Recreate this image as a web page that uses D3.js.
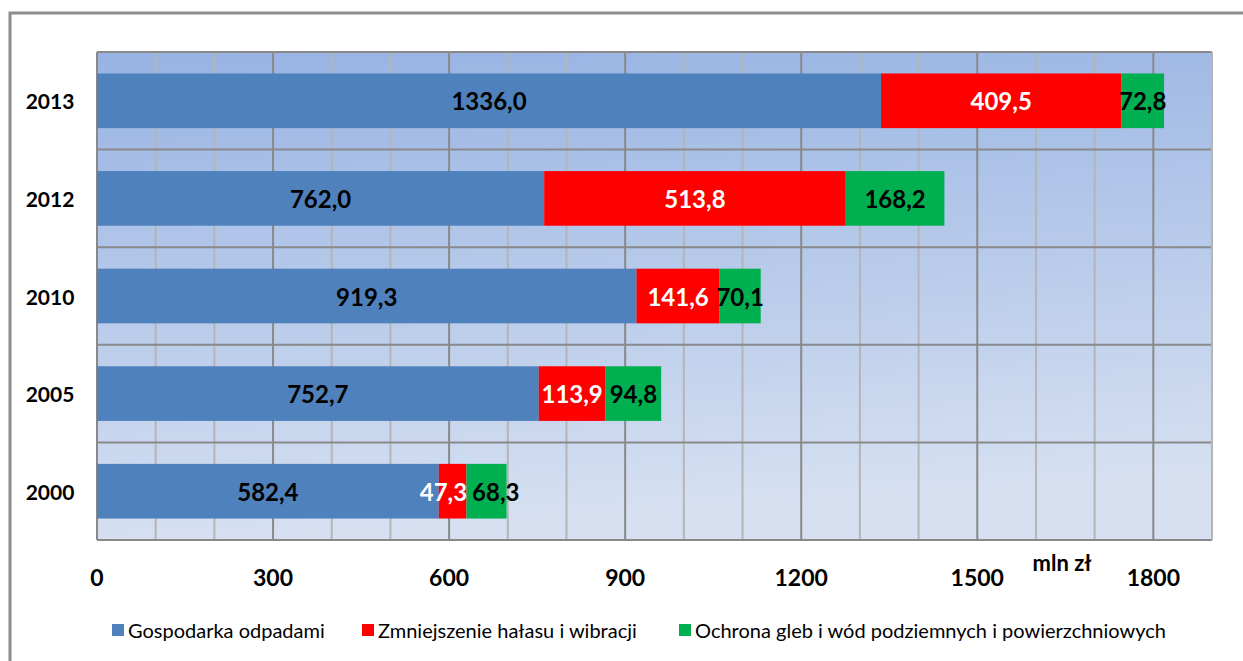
<html>
<head>
  <meta charset="utf-8">
  <script src="https://d3js.org/d3.v7.min.js"></script>
  <style>
    body { margin: 0; background: #fff; }
    text { font-family: Lato, "Open Sans", sans-serif; }
  </style>
</head>
<body>
  <svg id="chart" width="1243" height="661"></svg>
  <script>
    const years = ['2013', '2012', '2010', '2005', '2000'];
    const seriesNames = ['Gospodarka odpadami', 'Zmniejszenie hałasu i wibracji', 'Ochrona gleb i wód podziemnych i powierzchniowych'];
    const gospodarka = [1336.0, 762.0, 919.3, 752.7, 582.4];
    const halas = [409.5, 513.8, 141.6, 113.9, 47.3];
    const gleby = [72.8, 168.2, 70.1, 94.8, 68.3];
    const xTicks = [0, 300, 600, 900, 1200, 1500, 1800];
    const colors = ['#4f81bd', '#ff0000', '#00b050'];
    const labelColors = ['#000', '#fff', '#000'];

    const svg = d3.select('svg#chart');
    const margins = { top: 52, left: 97, right: 1212, bottom: 540 };

    // outer frame (only left and top visible)
    svg.append('rect')
      .attr('x', 10).attr('y', 13)
      .attr('width', 1300).attr('height', 700)
      .attr('fill', 'none').attr('stroke', '#8c8c8c').attr('stroke-width', 3);

    const defs = svg.append('defs');
    const grad = defs.append('linearGradient')
      .attr('id', 'bg').attr('x1', 0).attr('y1', 0).attr('x2', 0.15).attr('y2', 1);
    grad.append('stop').attr('offset', '0%').attr('stop-color', '#97b3e3');
    grad.append('stop').attr('offset', '100%').attr('stop-color', '#d6e0f1');

    const xScale = d3.scaleLinear().domain([0, 1900]).range([margins.left, margins.right]);
    const yScale = d3.scaleBand().domain(years).range([margins.top, margins.bottom]).paddingInner(0.44).paddingOuter(0.22);
    const band = d3.scaleBand().domain(years).range([margins.top, margins.bottom]);

    svg.append('rect')
      .attr('x', margins.left).attr('y', margins.top)
      .attr('width', margins.right - margins.left).attr('height', margins.bottom - margins.top)
      .attr('fill', 'url(#bg)');

    // vertical gridlines every 100
    const grid = d3.range(100, 1900, 100);
    svg.append('g').selectAll('line').data(grid).join('line')
      .attr('x1', d => xScale(d)).attr('x2', d => xScale(d))
      .attr('y1', margins.top).attr('y2', margins.bottom)
      .attr('stroke', d => d % 300 === 0 ? '#898989' : '#b5b5b5')
      .attr('stroke-width', 2);

    // horizontal lines between categories
    const hLines = years.map(y => band(y)).concat([margins.bottom]);
    svg.append('g').selectAll('line').data(hLines).join('line')
      .attr('x1', margins.left).attr('x2', margins.right)
      .attr('y1', d => d).attr('y2', d => d)
      .attr('stroke', '#898989').attr('stroke-width', 2);

    svg.append('line')
      .attr('x1', margins.left).attr('x2', margins.left)
      .attr('y1', margins.top).attr('y2', margins.bottom)
      .attr('stroke', '#898989').attr('stroke-width', 2);
    svg.append('line')
      .attr('x1', margins.right).attr('x2', margins.right)
      .attr('y1', margins.top).attr('y2', margins.bottom)
      .attr('stroke', '#b5b5b5').attr('stroke-width', 2);

    const data = years.map((y, i) => ({ year: y, vals: [gospodarka[i], halas[i], gleby[i]] }));
    const stacked = [];
    data.forEach(d => {
      let acc = 0;
      d.vals.forEach((v, k) => {
        stacked.push({ year: d.year, k: k, v: v, x0: acc, x1: acc + v });
        acc += v;
      });
    });

    svg.append('g').selectAll('rect').data(stacked).join('rect')
      .attr('x', d => xScale(d.x0))
      .attr('width', d => xScale(d.x1) - xScale(d.x0))
      .attr('y', d => yScale(d.year))
      .attr('height', yScale.bandwidth())
      .attr('fill', d => colors[d.k]);

    const labels = svg.append('g').selectAll('text').data(stacked).join('text')
      .attr('x', d => (xScale(d.x0) + xScale(d.x1)) / 2)
      .attr('y', d => yScale(d.year) + yScale.bandwidth() / 2)
      .attr('text-anchor', 'middle')
      .attr('dominant-baseline', 'central')
      .style('font-size', '24px')
      .style('font-weight', 'bold')
      .style('fill', d => labelColors[d.k])
      .text(d => d.v.toFixed(1).replace('.', ','));

    // push apart neighbouring labels that would collide (like Excel does)
    labels.each(function (d) { d.cx = (xScale(d.x0) + xScale(d.x1)) / 2; d.w = this.getComputedTextLength(); });
    years.forEach(y => {
      const row = stacked.filter(s => s.year === y);
      for (let k = 1; k < row.length; k++) {
        const a = row[k - 1], b = row[k];
        const gap = (b.cx - b.w / 2) - (a.cx + a.w / 2);
        if (gap < 5) {
          const shift = (5 - gap) / 2;
          a.cx -= shift; b.cx += shift;
        }
      }
    });
    labels.attr('x', d => d.cx);

    // category labels
    svg.append('g').selectAll('text').data(years).join('text')
      .attr('x', 50)
      .attr('y', d => yScale(d) + yScale.bandwidth() / 2)
      .attr('text-anchor', 'middle')
      .attr('dominant-baseline', 'central')
      .style('font-size', '21px')
      .style('font-weight', 'bold')
      .text(d => d);

    // x axis labels
    svg.append('g').selectAll('text').data(xTicks).join('text')
      .attr('x', d => xScale(d))
      .attr('y', 577)
      .attr('text-anchor', 'middle')
      .attr('dominant-baseline', 'central')
      .style('font-size', '23px')
      .style('font-weight', 'bold')
      .text(d => d);

    svg.append('text')
      .attr('x', 1062).attr('y', 562)
      .attr('text-anchor', 'middle')
      .attr('dominant-baseline', 'central')
      .style('font-size', '22px')
      .style('font-weight', 'bold')
      .text('mln zł');

    // legend
    const legendX = [112, 362, 679];
    const legend = svg.append('g').selectAll('g').data(seriesNames).join('g')
      .attr('transform', (d, i) => `translate(${legendX[i]},630)`);
    legend.append('rect')
      .attr('x', 0).attr('y', -6).attr('width', 12).attr('height', 12)
      .attr('fill', (d, i) => colors[i]);
    legend.append('text')
      .attr('x', 16).attr('y', 0)
      .attr('dominant-baseline', 'central')
      .style('font-size', '20px')
      .text(d => d);
  </script>
</body>
</html>
